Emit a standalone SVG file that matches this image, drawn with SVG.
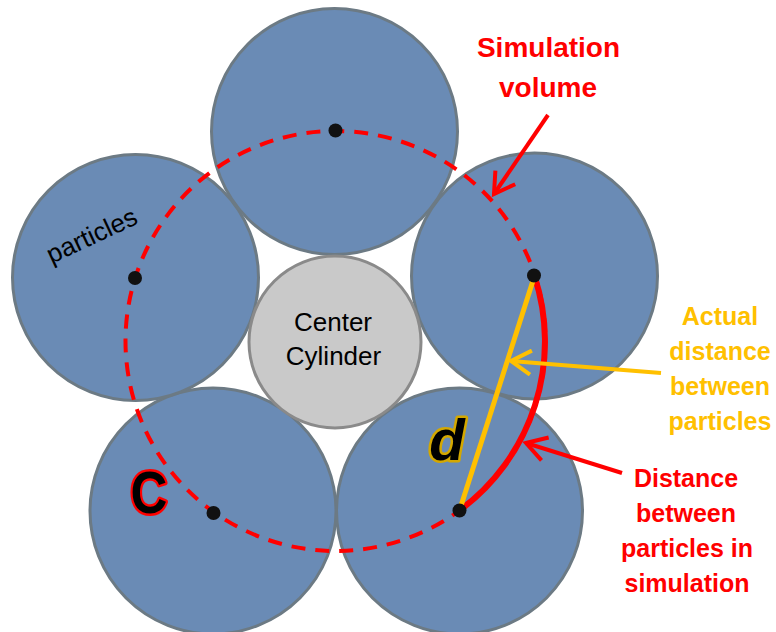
<svg xmlns="http://www.w3.org/2000/svg" width="776" height="632" viewBox="0 0 776 632">
<defs>
<style>
.p{fill:#6A8BB5;stroke:#6C7A84;stroke-width:3}
.cyl{fill:#C9C9C9;stroke:#8A8A8A;stroke-width:3}
.dot{fill:#111111}
.lbl{font-family:"Liberation Sans",Arial,sans-serif;font-weight:bold;text-anchor:middle}
.red{fill:#FF0000}
.org{fill:#FFC000}
.blk{font-family:"Liberation Sans",Arial,sans-serif;fill:#000;text-anchor:middle}
</style>
<marker id="ar" markerUnits="userSpaceOnUse" viewBox="-24 -14 28 28" markerWidth="28" markerHeight="28" refX="0" refY="0" orient="auto">
<path d="M-20,-12 L0,0 L-20,12" fill="none" stroke="#FF0000" stroke-width="4"/>
</marker>
<marker id="ao" markerUnits="userSpaceOnUse" viewBox="-24 -14 28 28" markerWidth="28" markerHeight="28" refX="0" refY="0" orient="auto">
<path d="M-20,-12 L0,0 L-20,12" fill="none" stroke="#FFC000" stroke-width="4"/>
</marker>
</defs>
<rect width="776" height="632" fill="#FFFFFF"/>

<g id="particle-lower-left"><circle class="p" cx="213" cy="511" r="123"/></g>
<g id="particle-lower-right"><circle class="p" cx="459.5" cy="511" r="123"/></g>
<g id="particle-upper-right"><circle class="p" cx="534.5" cy="276" r="123"/></g>
<g id="particle-upper-left"><circle class="p" cx="135.5" cy="277.5" r="123"/></g>
<g id="particle-top"><circle class="p" cx="334.5" cy="131.5" r="123"/></g>

<g id="center-cylinder">
<circle class="cyl" cx="335" cy="342" r="86"/>
<text class="blk" x="333" y="331" font-size="26">Center</text>
<text class="blk" x="333.5" y="365" font-size="26">Cylinder</text>
</g>

<g id="simulation-circle">
<circle cx="335.5" cy="341" r="210" fill="none" stroke="#FF0000" stroke-width="4" stroke-dasharray="14 10"/>
</g>

<g id="distances">
<path d="M534.5,276 A210,210 0 0 1 459.5,510.5" fill="none" stroke="#FF0000" stroke-width="6"/>
<line x1="534.5" y1="276" x2="459.5" y2="510.5" stroke="#FFC000" stroke-width="5"/>
</g>

<g id="dots">
<circle class="dot" cx="335.5" cy="130.5" r="7"/>
<circle class="dot" cx="534" cy="275.5" r="7"/>
<circle class="dot" cx="459.5" cy="510.5" r="7"/>
<circle class="dot" cx="213.5" cy="513" r="7"/>
<circle class="dot" cx="135" cy="278" r="7"/>
</g>

<g id="letters">
<text class="blk" x="95.5" y="243.5" font-size="26" transform="rotate(-25 95.5 243.5)">particles</text>
<text transform="translate(149,513) scale(0.85,1)" x="0" y="0" font-family="'Liberation Sans',Arial,sans-serif" font-weight="bold" font-size="60" text-anchor="middle" fill="#000" stroke="#FF0000" stroke-width="5" paint-order="stroke" stroke-linejoin="round">C</text>
<text x="447" y="460" font-family="'Liberation Sans',Arial,sans-serif" font-weight="bold" font-style="italic" font-size="58" text-anchor="middle" fill="#000" stroke="#D4A800" stroke-width="5" paint-order="stroke" stroke-linejoin="round">d</text>
</g>

<g id="label-simulation-volume">
<text class="lbl red" x="548.5" y="57" font-size="28">Simulation</text>
<text class="lbl red" x="548" y="97" font-size="28">volume</text>
</g>

<g id="label-actual-distance">
<text class="lbl org" x="720" y="325" font-size="25">Actual</text>
<text class="lbl org" x="720" y="360" font-size="25">distance</text>
<text class="lbl org" x="720" y="395" font-size="25">between</text>
<text class="lbl org" x="720" y="430" font-size="25">particles</text>
</g>

<g id="label-sim-distance">
<text class="lbl red" x="686" y="487" font-size="25">Distance</text>
<text class="lbl red" x="686" y="522" font-size="25">between</text>
<text class="lbl red" x="687" y="557" font-size="25">particles in</text>
<text class="lbl red" x="687" y="592" font-size="25">simulation</text>
</g>

<g id="connectors">
<line x1="548" y1="115" x2="494" y2="194" stroke="#FF0000" stroke-width="4" marker-end="url(#ar)"/>
<line x1="661" y1="373" x2="511" y2="361" stroke="#FFC000" stroke-width="4" marker-end="url(#ao)"/>
<line x1="622" y1="473" x2="526" y2="443" stroke="#FF0000" stroke-width="4" marker-end="url(#ar)"/>
</g>
</svg>
